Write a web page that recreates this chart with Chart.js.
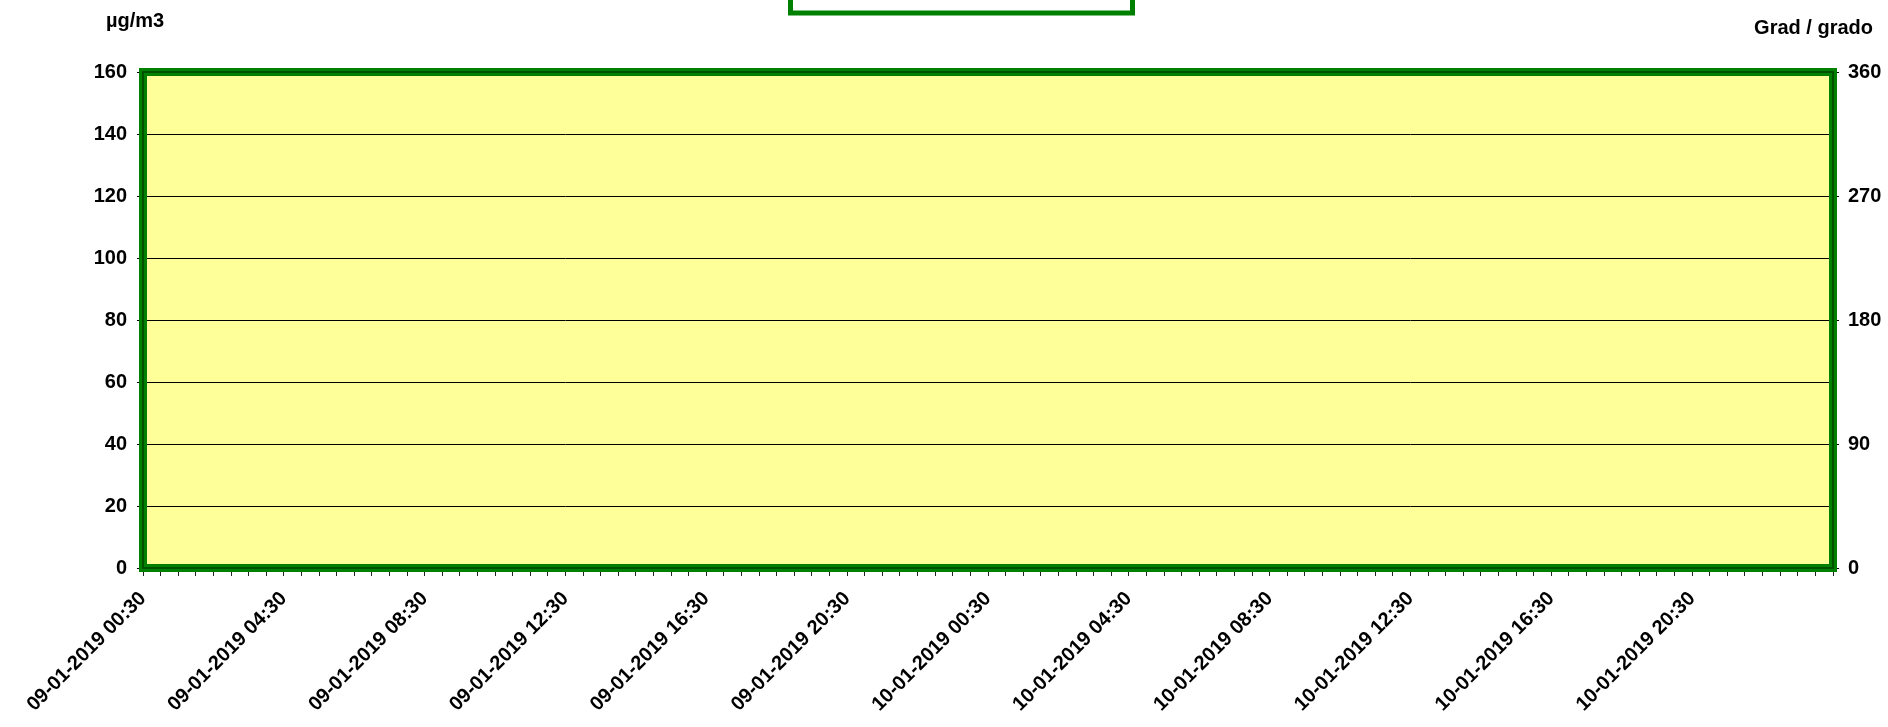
<!DOCTYPE html>
<html>
<head>
<meta charset="utf-8">
<script src="https://cdn.jsdelivr.net/npm/chart.js@4.4.1/dist/chart.umd.min.js"></script>
<style>
  body { margin: 0; background: #fff; }
  canvas { display: block; }
</style>
</head>
<body>
<canvas id="chart" width="1888" height="727"></canvas>
<script>
// hours after 09-01-2019 00:30, one tick every half hour, label every 4 hours
const tickLabels = [
  "09-01-2019 00:30", "09-01-2019 04:30", "09-01-2019 08:30", "09-01-2019 12:30",
  "09-01-2019 16:30", "09-01-2019 20:30", "10-01-2019 00:30", "10-01-2019 04:30",
  "10-01-2019 08:30", "10-01-2019 12:30", "10-01-2019 16:30", "10-01-2019 20:30"
];
// no measurements in this period
const concValues = [];
const windDirValues = [];

const FONT = { family: "'Liberation Sans', Arial, sans-serif", size: 20, weight: "bold" };

const framePlugin = {
  id: "frame",
  beforeDraw(chart) {
    const { ctx, chartArea: a } = chart;
    ctx.save();
    ctx.fillStyle = "#ffff99";
    ctx.fillRect(a.left, a.top, a.right - a.left, a.bottom - a.top);
    ctx.restore();
  },
  afterDraw(chart) {
    const { ctx, chartArea: a } = chart;
    ctx.save();
    ctx.strokeStyle = "#008000";
    ctx.lineWidth = 8;
    ctx.strokeRect(a.left, a.top, a.right - a.left, a.bottom - a.top);
    ctx.lineWidth = 2;
    ctx.strokeStyle = "#005000";
    ctx.strokeRect(a.left, a.top, a.right - a.left, a.bottom - a.top);
    // empty legend box
    ctx.lineWidth = 5;
    ctx.strokeStyle = "#008000";
    ctx.strokeRect(790.5, -20, 342, 33);
    // axis titles
    ctx.fillStyle = "#000";
    ctx.font = "bold 20px 'Liberation Sans', Arial, sans-serif";
    ctx.textBaseline = "alphabetic";
    ctx.textAlign = "left";
    ctx.fillText("µg/m3", 106, 27);
    ctx.textAlign = "right";
    ctx.fillText("Grad / grado", 1873, 34);
    ctx.restore();
  }
};

new Chart(document.getElementById("chart"), {
  type: "line",
  data: {
    datasets: [
      { label: "", data: concValues, yAxisID: "y", borderColor: "#008000" },
      { label: "", data: windDirValues, yAxisID: "y1", borderColor: "#000080" }
    ]
  },
  options: {
    responsive: false,
    animation: false,
    devicePixelRatio: 1,
    layout: { padding: { top: 72, left: 0, right: 0, bottom: 0 } },
    plugins: { legend: { display: false }, tooltip: { enabled: false } },
    scales: {
      x: {
        type: "linear",
        min: 0,
        max: 48,
        afterFit(s) { s.height = 159; },
        border: { display: false },
        grid: { drawOnChartArea: false, drawTicks: true, tickLength: 8, color: "#222", lineWidth: 1 },
        ticks: {
          stepSize: 0.5,
          autoSkip: false,
          maxRotation: 45,
          minRotation: 45,
          padding: 11,
          color: "#000",
          font: FONT,
          callback: v => (v % 4 === 0 && tickLabels[v / 4]) ? tickLabels[v / 4] : ""
        }
      },
      y: {
        position: "left",
        min: 0,
        max: 160,
        afterFit(s) { s.width = 143; },
        border: { display: false },
        grid: { color: "#000", lineWidth: 1, tickLength: 6 },
        ticks: { stepSize: 20, padding: 10, color: "#000", font: FONT }
      },
      y1: {
        position: "right",
        min: 0,
        max: 360,
        afterFit(s) { s.width = 55; },
        border: { display: false },
        grid: { drawOnChartArea: false, color: "#000", lineWidth: 1, tickLength: 6 },
        ticks: { stepSize: 90, padding: 9, color: "#000", font: FONT }
      }
    }
  },
  plugins: [framePlugin]
});
</script>
</body>
</html>
